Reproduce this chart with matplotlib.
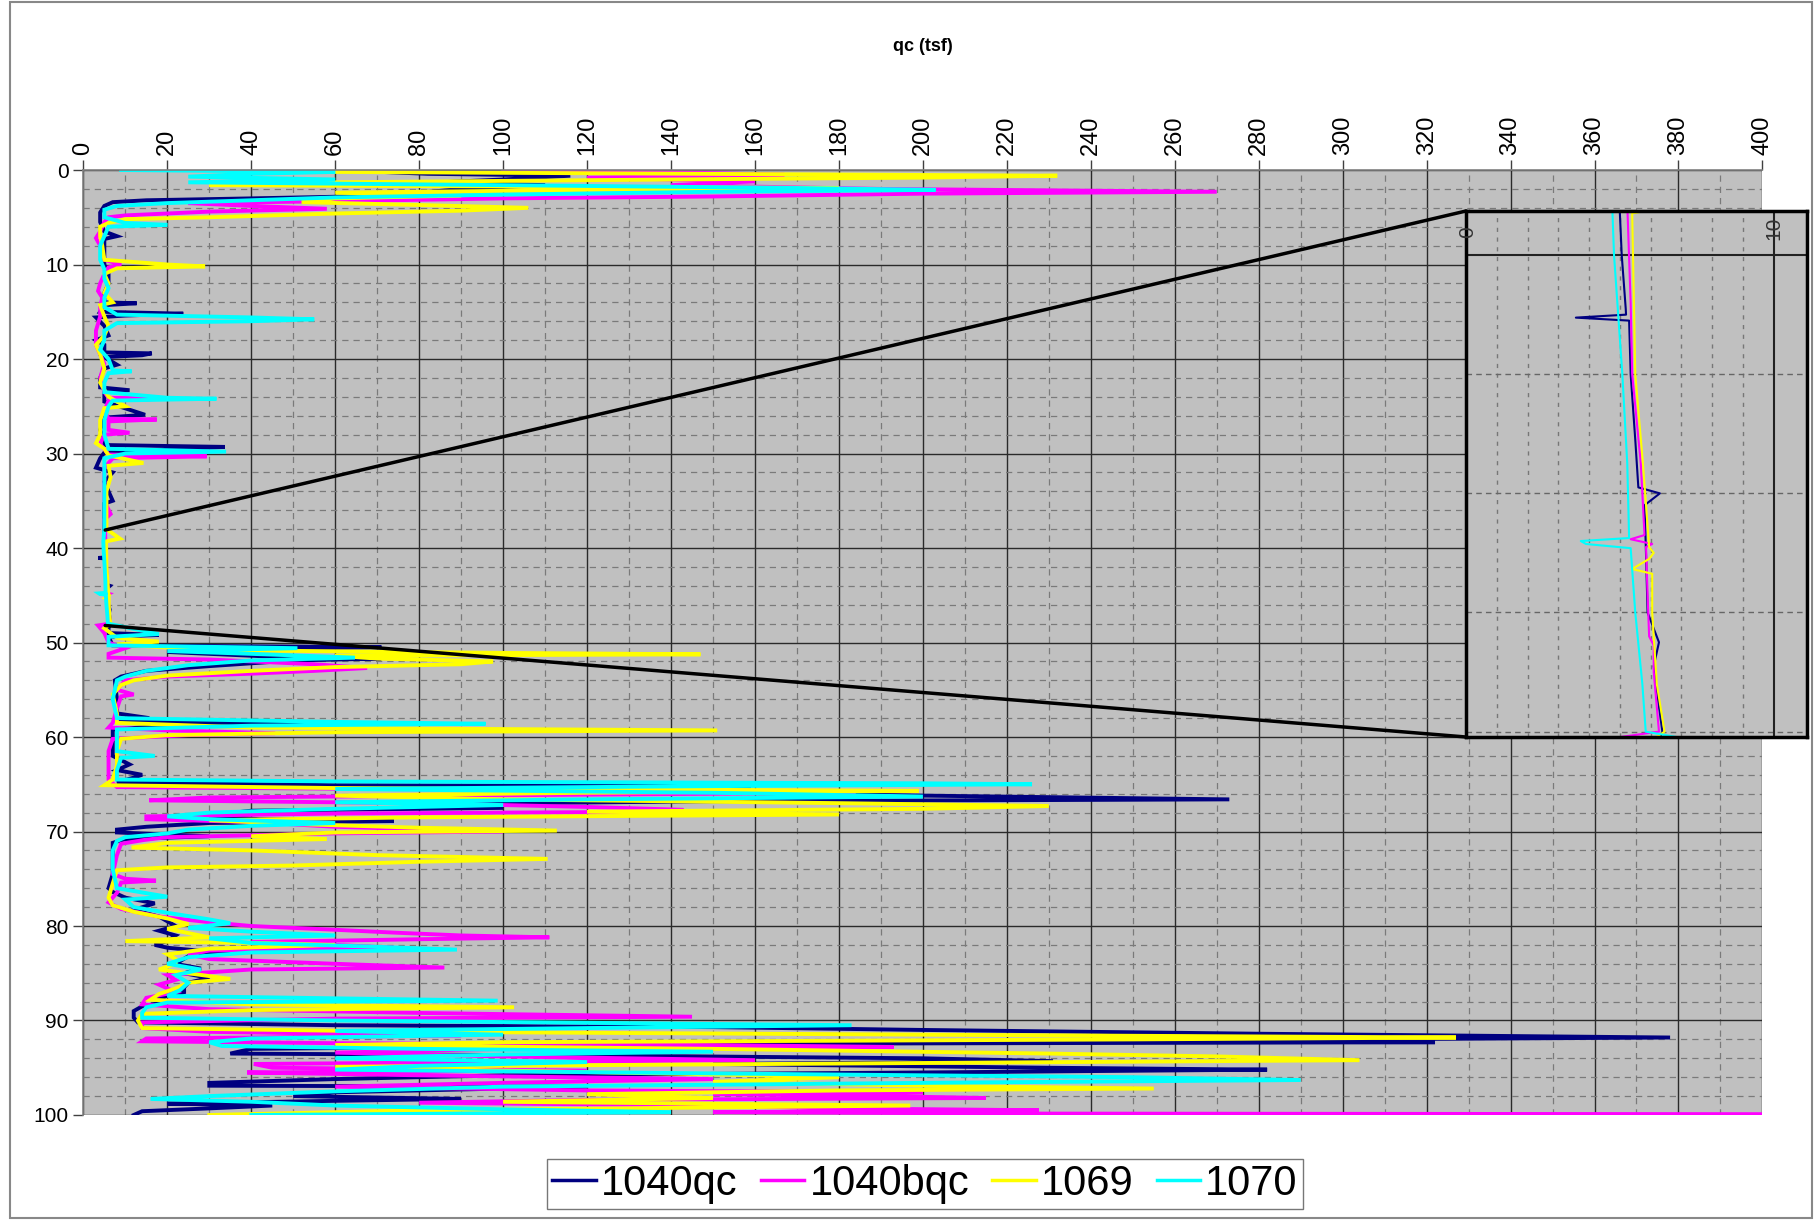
import matplotlib.pyplot as plt
from matplotlib.patches import Rectangle, ConnectionPatch
from matplotlib.ticker import MultipleLocator

plt.rcParams['font.family'] = ['Liberation Sans', 'DejaVu Sans']

# (depth, qc) pairs, one list per sounding
cpt_1040qc = [
    (0.0, 60), (0.4, 82), (0.6, 116), (1.0, 100), (1.3, 85), (1.6, 110), (2.0, 90), (2.4, 80),
    (2.7, 75), (3.0, 40), (3.2, 15), (3.4, 7), (3.8, 5), (4.5, 4), (5.5, 4), (6.5, 5), (7.0, 8),
    (7.3, 5), (8.5, 5), (10, 5), (11, 6), (12, 6), (13, 5), (14.0, 5), (14.1, 12.7), (14.3, 5),
    (15.0, 4), (15.2, 23.8), (15.4, 10), (15.6, 3), (16.5, 5), (17.5, 6), (18.0, 3), (18.5, 5),
    (19.3, 5), (19.4, 16.3), (19.6, 14), (19.8, 5), (20.6, 8), (21.0, 5), (22.0, 4), (23.0, 4),
    (23.3, 11), (23.5, 5), (24.5, 5), (25.9, 14.7), (26.2, 5), (27.5, 4), (28.5, 5), (29.1, 5),
    (29.3, 33.7), (29.6, 20), (29.9, 5), (30.5, 4), (31.5, 3), (32, 7), (33, 5), (35, 7),
    (35.3, 5), (37, 5), (38.5, 5), (39.3, 5.0), (40.0, 5.06), (40.9, 5.19), (41.0, 5.2),
    (41.05, 3.57), (41.1, 5.3), (42.0, 5.35), (43.1, 5.5), (43.9, 5.6), (44.0, 6.3), (44.2, 5.8),
    (44.85, 5.84), (46.0, 5.9), (46.5, 6.27), (46.9, 6.1), (47.5, 6.25), (48.0, 6.38), (48.5, 6),
    (49.0, 6), (49.2, 18), (49.4, 6), (50.3, 7), (50.5, 71), (50.7, 40), (51.0, 20), (51.5, 45),
    (51.7, 71), (51.9, 50), (52.5, 30), (53.0, 15), (53.6, 9), (54.0, 7.5), (56, 8), (57.5, 8),
    (58.0, 15.7), (58.2, 8), (58.5, 30), (58.6, 70), (58.8, 20), (59.2, 7), (60, 7), (62, 7),
    (62.9, 11), (63.5, 8), (64.0, 14), (64.3, 12), (64.8, 8), (65.1, 60), (65.2, 159), (65.4, 90),
    (65.8, 140), (66.2, 200), (66.6, 273), (66.8, 150), (67.1, 80), (67.5, 100), (67.8, 40),
    (68.3, 30), (68.7, 42), (68.9, 74), (69.1, 30), (69.5, 15), (69.8, 8), (70.1, 8), (70.5, 30),
    (70.8, 10), (71.2, 7), (72.5, 7), (74.5, 7), (76.0, 6), (76.4, 7), (77.0, 10), (77.6, 17),
    (78.3, 12), (79.0, 18), (80.0, 22), (80.5, 18), (81.0, 22), (81.6, 20), (82.0, 17), (82.3, 20),
    (82.9, 35), (83.2, 25), (84.0, 22), (84.5, 28), (85.0, 24), (85.5, 30), (86.0, 25), (86.5, 24),
    (87.0, 24), (87.6, 18), (88.0, 20), (88.5, 14), (89.0, 12), (89.7, 12), (90.2, 13), (90.5, 60),
    (90.7, 150), (91.0, 200), (91.4, 280), (91.8, 378), (92.0, 300), (92.2, 200), (92.3, 322),
    (92.5, 120), (92.8, 90), (93.0, 40), (93.5, 35), (93.7, 120), (94.0, 200), (94.3, 231),
    (94.6, 150), (95.0, 230), (95.2, 282), (95.5, 200), (95.8, 100), (96.2, 60), (96.6, 30),
    (96.9, 30), (97.0, 120), (97.3, 90), (97.6, 60), (98.0, 50), (98.3, 90), (98.5, 60),
    (98.8, 20), (99.0, 45), (99.3, 30), (99.6, 14), (100.0, 12),
]

cpt_1040bqc = [
    (0.0, 100), (0.3, 147), (0.5, 167), (0.8, 120), (1.2, 160), (1.6, 140), (2.0, 190), (2.3, 270),
    (2.5, 200), (2.8, 150), (3.0, 100), (3.3, 60), (3.5, 25), (3.8, 40), (4.1, 58), (4.4, 30),
    (4.8, 10), (5.0, 6), (5.5, 5), (6.5, 4), (7.2, 3), (8.0, 4), (9.5, 5), (10.0, 9), (10.3, 6),
    (11, 5), (12, 4), (12.8, 3.5), (13.5, 4.5), (14.5, 4), (15.5, 4), (17, 3), (18.5, 3), (19.5, 4),
    (20.5, 5), (22, 4), (23.5, 5), (24.1, 6), (24.2, 20), (24.4, 6), (25.5, 5), (26.3, 6),
    (26.4, 17.5), (26.6, 6), (27.5, 6), (27.8, 11), (28.0, 5), (29.0, 4), (30.1, 6), (30.3, 29.4),
    (30.5, 7), (31.5, 5), (33, 5), (35, 5), (36.4, 6.5), (37, 5), (38.5, 5.2), (39.3, 5.25),
    (40.8, 5.35), (42.0, 5.4), (43.5, 5.68), (44.7, 5.8), (44.77, 5.35), (44.85, 6.05),
    (44.9, 5.85), (45.7, 5.9), (46.4, 5.95), (46.55, 6.1), (47.0, 6.1), (48.0, 6.27), (48.2, 3.5),
    (49.0, 5), (50.0, 6), (50.6, 10), (51.2, 6), (51.6, 6), (51.8, 30), (52.3, 55), (52.7, 67.6),
    (53.0, 55), (53.3, 40), (53.6, 20), (54.0, 10), (55.0, 8), (55.5, 12), (55.7, 9), (57, 8),
    (58.5, 7), (59.0, 6), (59.3, 20), (59.6, 45.7), (59.8, 25), (60.2, 7), (61.5, 6), (63, 6),
    (64.5, 6), (65.3, 8), (65.6, 100), (65.9, 184), (66.1, 120), (66.4, 30), (66.7, 15.7),
    (67.0, 80), (67.4, 120), (67.7, 142.7), (67.9, 143), (68.1, 60), (68.4, 15), (68.7, 15),
    (69.0, 40), (69.5, 60), (70.0, 100), (70.2, 60), (70.6, 20), (70.9, 14.4), (71.3, 9),
    (72.5, 8), (74.5, 7), (75.0, 10), (75.2, 17.3), (75.4, 9), (76.5, 8), (77.5, 6), (78.2, 9),
    (79.0, 18), (79.6, 30), (80.0, 40), (80.4, 60), (80.7, 74), (81.0, 90), (81.2, 111),
    (81.4, 80), (81.7, 40), (82.0, 60), (82.3, 74), (82.6, 30), (83.0, 25), (83.5, 30), (84.0, 60),
    (84.4, 86), (84.6, 40), (85.2, 20), (85.7, 22), (86.2, 18), (87.0, 22), (87.6, 15), (88.3, 14),
    (88.8, 30), (89.2, 80), (89.6, 145), (89.8, 60), (90.2, 14), (90.8, 14), (91.2, 30),
    (91.6, 90), (91.9, 15), (92.2, 14), (92.4, 60), (92.6, 150), (92.8, 193), (93.0, 100),
    (93.4, 60), (93.8, 100), (94.2, 160), (94.6, 40.6), (95.0, 45), (95.3, 120), (95.5, 39),
    (95.8, 80), (96.2, 150), (96.6, 100), (97.0, 60), (97.4, 120), (97.6, 200), (97.8, 150),
    (98.0, 190), (98.2, 215), (98.4, 120), (98.7, 80), (99.0, 150), (99.3, 180), (99.5, 227.6),
    (99.7, 150), (99.85, 227), (99.92, 420),
]

cpt_1069 = [
    (0.0, 30), (0.2, 60), (0.4, 146), (0.6, 232), (0.8, 200), (1.0, 140), (1.3, 60), (1.6, 30),
    (1.9, 180), (2.1, 120), (2.4, 60), (2.7, 90), (3.0, 60), (3.4, 52), (3.7, 80), (4.0, 106),
    (4.3, 90), (4.6, 60), (5.0, 30), (5.2, 10), (5.6, 6), (6.0, 4), (7.0, 4), (8.0, 4.5), (9.5, 5),
    (10.0, 20), (10.2, 29), (10.4, 8), (11, 5), (12, 6), (13, 5), (14.0, 7), (14.3, 4), (15.5, 5),
    (16.5, 6), (17.5, 5), (18.5, 3), (19.5, 4), (21, 5), (22.5, 4), (24.0, 6), (25.0, 10),
    (25.2, 5), (26.5, 4), (28.0, 4), (28.9, 3), (29.5, 5), (30.2, 6), (31.0, 14.3), (31.3, 6),
    (32.5, 6.5), (34, 5.5), (36, 5.5), (38, 5.5), (39.0, 8.7), (39.3, 5.4), (42.0, 5.5),
    (43.5, 5.75), (44.9, 5.95), (45.0, 6.1), (45.1, 5.95), (45.27, 5.4), (45.35, 6.05), (46.0, 6.05),
    (47.2, 6.2), (48.0, 6.45), (48.5, 5), (49.5, 8), (49.9, 18), (50.2, 8), (50.8, 30), (51.1, 100),
    (51.25, 147), (51.4, 60), (51.7, 70), (52.0, 97.6), (52.3, 90), (52.6, 60), (53.0, 40),
    (53.5, 20), (54.0, 12), (54.5, 9), (55.5, 7), (57.5, 8), (58.5, 8), (59.0, 40), (59.3, 151),
    (59.5, 60), (59.8, 20), (60.2, 9), (61.5, 8), (63.0, 8), (64.5, 7), (65.1, 5), (65.4, 60),
    (65.7, 199), (65.9, 120), (66.2, 60), (66.6, 100), (67.0, 180), (67.3, 230), (67.6, 200),
    (67.9, 120), (68.2, 180), (68.5, 80), (68.8, 30), (69.2, 50), (69.6, 80), (69.9, 112.8),
    (70.1, 60), (70.5, 40), (70.8, 58), (71.2, 20), (71.7, 11.5), (72.0, 40), (72.5, 70),
    (72.9, 110.6), (73.2, 80), (73.6, 50), (73.8, 20), (74.1, 8), (75.5, 7), (77.0, 6), (77.8, 7),
    (78.5, 12), (79.2, 20), (79.8, 25), (80.3, 20), (81.2, 30), (81.6, 10), (81.8, 40), (82.0, 60),
    (82.4, 30), (83.0, 20), (83.5, 22), (84.0, 22), (84.6, 18), (85.0, 25), (85.6, 35), (86.0, 25),
    (86.6, 22), (87.2, 18), (87.8, 16), (88.3, 40), (88.6, 102.6), (88.9, 40), (89.3, 14),
    (90.0, 13), (90.8, 14), (91.2, 80), (91.5, 200), (91.8, 327), (92.0, 250), (92.3, 100),
    (92.6, 60), (93.0, 150), (93.5, 230), (93.8, 270), (94.2, 304), (94.5, 200), (94.9, 60),
    (95.3, 100), (95.7, 150), (96.0, 180), (96.5, 150), (96.9, 200), (97.2, 255), (97.4, 180),
    (97.8, 120), (98.2, 150), (98.6, 100), (99.0, 197), (99.2, 150), (99.5, 80), (99.8, 50),
    (100.0, 30),
]

cpt_1070 = [
    (0.0, 9), (0.2, 60), (0.4, 40), (0.7, 25), (1.0, 60), (1.3, 25), (1.6, 100), (1.9, 170),
    (2.1, 203), (2.3, 150), (2.6, 100), (2.9, 60), (3.2, 40), (3.5, 20), (3.8, 8), (4.2, 5),
    (5.0, 5), (5.6, 10), (5.8, 20), (6.0, 6), (7.0, 5), (8.0, 4), (9.5, 4), (10.5, 5), (11.5, 5),
    (12.5, 6), (13.5, 5), (14.5, 5), (15.3, 8), (15.6, 40), (15.8, 55), (16.0, 40), (16.2, 8),
    (17, 5), (18, 5), (19, 4), (20.0, 6), (21.2, 7), (21.3, 11.5), (21.5, 6), (22.5, 5), (23.5, 5),
    (24.1, 20), (24.2, 31.7), (24.4, 7), (25, 6), (26.5, 5), (28, 5), (29.5, 6), (29.8, 34),
    (30.0, 10), (30.5, 5), (32, 5), (34, 5), (36, 5), (38, 5.0), (39.3, 4.76), (40.0, 4.81),
    (42.0, 5.08), (43.5, 5.24), (44.75, 5.3), (44.8, 3.73), (44.85, 3.9), (44.92, 5.35),
    (46.0, 5.5), (47.2, 5.73), (48.0, 5.84), (49.1, 18), (49.4, 6), (50.3, 6), (50.6, 51),
    (50.9, 20), (51.2, 40), (51.6, 64.7), (51.9, 40), (52.4, 25), (53.0, 15), (53.6, 10), (54.0, 8),
    (56, 7), (58.0, 8), (58.4, 60), (58.6, 95.8), (58.8, 40), (59.2, 8), (60.5, 8), (61.5, 8),
    (62.0, 17), (62.2, 9), (63.5, 8), (64.5, 8), (64.7, 60), (64.9, 200), (65.0, 226), (65.2, 150),
    (65.5, 60), (65.9, 150), (66.3, 200), (66.6, 120), (66.9, 60), (67.2, 100), (67.6, 60),
    (68.0, 30), (68.4, 20), (68.7, 30), (69.1, 60), (69.4, 40), (69.8, 25), (70.2, 20), (70.6, 10),
    (71.0, 8), (72, 7), (74, 7), (76.0, 8), (76.9, 20), (77.2, 10), (78.0, 12), (78.6, 20),
    (79.3, 30), (79.7, 35), (80.2, 25), (80.6, 40), (81.0, 60), (81.3, 30), (81.8, 40), (82.2, 70),
    (82.5, 89), (82.8, 40), (83.3, 25), (84.0, 20), (84.6, 28), (85.2, 22), (86.0, 25), (86.8, 23),
    (87.4, 20), (87.9, 98.7), (88.1, 20), (88.6, 15), (89.2, 14), (89.7, 14), (90.0, 60),
    (90.5, 183), (90.8, 120), (91.1, 60), (91.5, 100), (91.9, 40), (92.3, 30), (92.7, 33),
    (93.0, 80), (93.3, 150), (93.6, 100), (94.0, 60), (94.4, 120), (94.8, 80), (95.2, 60),
    (95.6, 150), (96.0, 250), (96.3, 290), (96.6, 200), (97.0, 100), (97.5, 60), (98.0, 30),
    (98.3, 16), (98.6, 40), (99.0, 60), (99.4, 100), (99.7, 140), (100.0, 40),
]

labels = ['1040qc', '1040bqc', '1069', '1070']
colors = ['#000080', '#FF00FF', '#FFFF00', '#00FFFF']
soundings = [cpt_1040qc, cpt_1040bqc, cpt_1069, cpt_1070]

x_ticks = list(range(0, 401, 20))
y_ticks = list(range(0, 101, 10))

fig = plt.figure(figsize=(18.16, 12.25), dpi=100)

# main chart
ax = fig.add_axes([0.0459, 0.0898, 0.9246, 0.7714])
ax.set_facecolor('#C0C0C0')
for data, lab, col in zip(soundings, labels, colors):
    depth = [p[0] for p in data]
    qc = [p[1] for p in data]
    ax.plot(qc, depth, color=col, lw=2.8, label=lab, solid_joinstyle='miter')

ax.set_xlim(0, 400)
ax.set_ylim(100, 0)
ax.xaxis.tick_top()
ax.set_xticks(x_ticks)
ax.set_yticks(y_ticks)
ax.xaxis.set_minor_locator(MultipleLocator(10))
ax.yaxis.set_minor_locator(MultipleLocator(2))
ax.set_xticklabels([str(v) for v in x_ticks], rotation=90)
ax.tick_params(axis='both', which='major', labelsize=15, length=7, width=1, color='#404040')
ax.tick_params(axis='x', which='major', labelsize=17)
ax.tick_params(axis='both', which='minor', length=0)
ax.grid(True, which='major', color='#2a2a2a', lw=1.0, ls='-')
ax.grid(True, which='minor', color='#7a7a7a', lw=0.9, ls=(0, (5, 4)))
ax.set_axisbelow(True)
for s in ['right', 'bottom']:
    ax.spines[s].set_visible(False)
for s in ['top', 'left']:
    ax.spines[s].set_color('#808080')
    ax.spines[s].set_linewidth(1.2)

fig.text(0.508, 0.962, 'qc (tsf)', ha='center', va='center', fontsize=13, fontweight='bold')

# blown-up view of 39-48 ft
axin = fig.add_axes([1466 / 1816, 1 - 737 / 1225, 341 / 1816, 526 / 1225])
axin.set_facecolor('#C0C0C0')
for data, col in zip(soundings, colors):
    depth = [p[0] for p in data]
    qc = [p[1] for p in data]
    axin.plot(qc, depth, color=col, lw=1.5)
axin.set_xlim(0, 11.08)
axin.set_ylim(48.09, 39.26)
axin.set_xticks([])
axin.set_yticks([])
for v in range(1, 10):
    axin.axvline(v, color='#777777', lw=1.0, ls=(0, (3, 4)), zorder=0)
for v in [42, 44, 46, 48]:
    axin.axhline(v, color='#666666', lw=1.0, ls=(0, (4, 3)), zorder=0)
axin.axhline(40, color='#222222', lw=1.5, zorder=0)
axin.axvline(10, color='#222222', lw=1.5, zorder=0)
axin.text(0.05, 39.62, '0', rotation=90, ha='center', va='center', fontsize=15, color='#333333')
axin.text(10, 39.55, '10', rotation=90, ha='center', va='center', fontsize=15, color='#333333')
for s in axin.spines.values():
    s.set_linewidth(2.5)
    s.set_color('black')

for y_main, y_in in [(38.1, 1.0), (48.2, 0.0)]:
    con = ConnectionPatch(xyA=(5.2, y_main), coordsA=ax.transData,
                          xyB=(0.0, y_in), coordsB=axin.transAxes,
                          color='black', lw=2.5)
    fig.add_artist(con)

leg = fig.legend(loc='center', bbox_to_anchor=(0.5094, 0.0335), ncol=4, fontsize=30,
                 frameon=True, fancybox=False, edgecolor='#555555', handlelength=1.05,
                 handletextpad=0.12, columnspacing=0.55, borderpad=0.12, borderaxespad=0)
leg.get_frame().set_linewidth(1.0)
for line in leg.get_lines():
    line.set_linewidth(2.5)

# outer chart border
fig.add_artist(Rectangle((0.0055, 0.006), 0.9925, 0.992, transform=fig.transFigure,
                         fill=False, edgecolor='#888888', lw=1.5))

fig.savefig('out.png', dpi=100)
